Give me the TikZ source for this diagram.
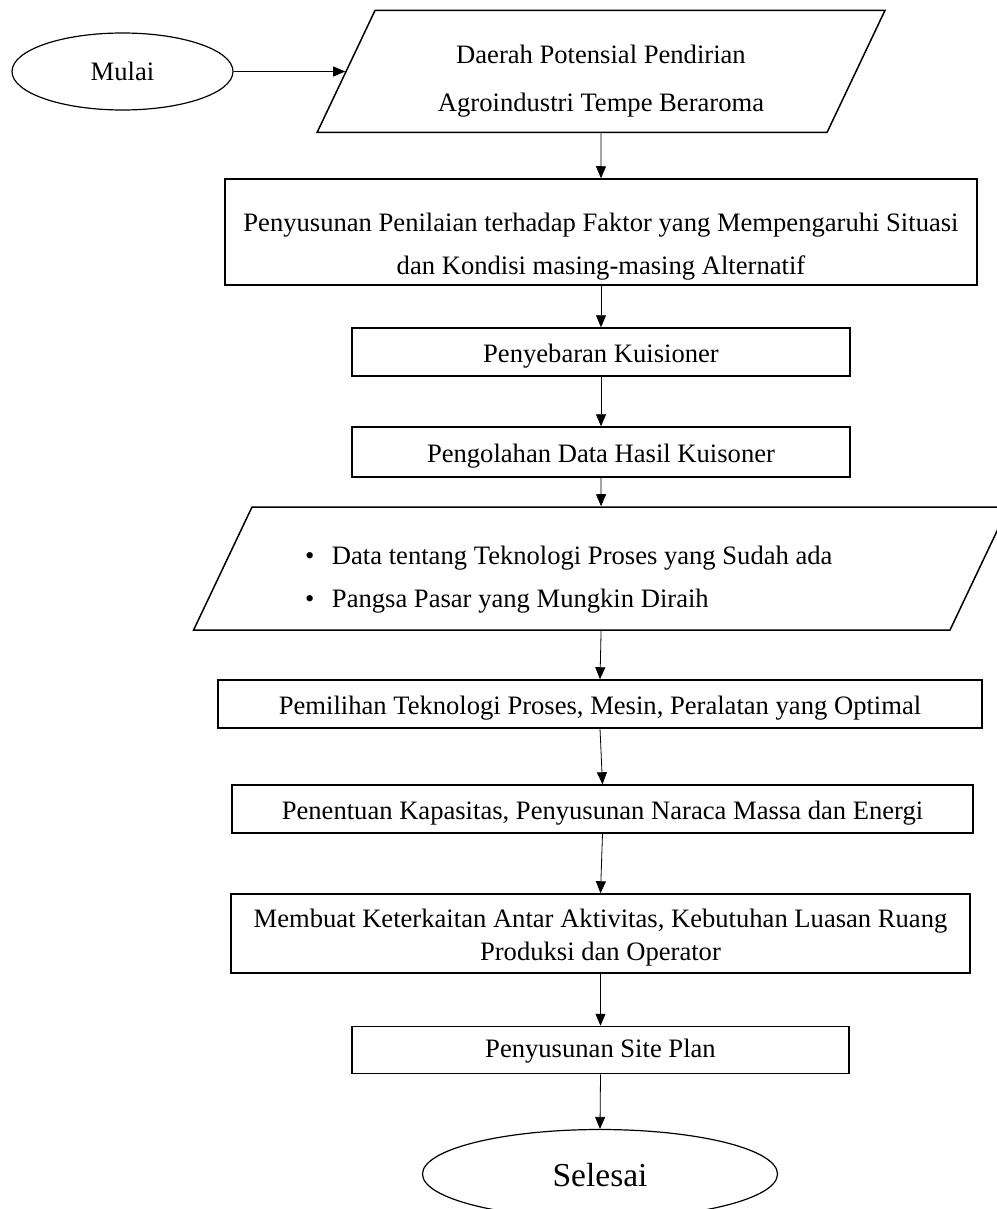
\documentclass[tikz,border=0pt]{standalone}
\usepackage{fontspec}
\setmainfont{Liberation Serif}
\usetikzlibrary{shapes.geometric,arrows.meta}

\newcommand{\teksbiasa}{\fontsize{26.6}{43}\selectfont}

\begin{document}
\begin{tikzpicture}[x=1pt,y=-1pt,
                    kotak/.style={draw,line width=1.5pt,inner sep=0pt,align=flush center,
                                  font=\teksbiasa},
                    jajar/.style={draw,line width=1.5pt,trapezium,
                                  trapezium left angle=64.6,trapezium right angle=115.4,
                                  font=\teksbiasa},
                    oval/.style={draw,ellipse,line width=1.2pt,inner sep=0pt},
                    panah/.style={-{Triangle[width=10pt,length=12pt]},line width=0.8pt}]
\useasboundingbox (0,0) rectangle (996,1209);

% mulai dan input awal
\node[oval,minimum width=221pt,minimum height=77pt,font=\teksbiasa,
      text height=25pt,text depth=6pt] (mulai) at (122.5,71.5) {Mulai};
\node[jajar,text width=440pt,align=flush center,inner xsep=6pt,inner ysep=33.5pt,
      text height=20pt,text depth=35pt]
  (daerah) at (601,71.5) {Daerah Potensial Pendirian\\[5pt]Agroindustri Tempe Beraroma};

% tahapan
\node[kotak,minimum width=752pt,minimum height=106pt,text width=740pt,
      text height=20pt,text depth=22pt] (penilaian) at (601,232)
  {Penyusunan Penilaian terhadap Faktor yang Mempengaruhi Situasi\\dan Kondisi masing-masing Alternatif};
\node[kotak,minimum width=498pt,minimum height=48pt,text height=26pt,text depth=6pt]
  (sebar) at (601,352) {Penyebaran Kuisioner};
\node[kotak,minimum width=498pt,minimum height=50pt,text height=26pt,text depth=6pt]
  (olah) at (601,452) {Pengolahan Data Hasil Kuisoner};

\node[jajar,text width=592pt,align=flush left,inner xsep=53pt,inner ysep=37pt,
      text height=20pt,text depth=29pt]
  (datatek) at (601,568.5)
  {\makebox[27pt][l]{\textbullet}Data tentang Teknologi Proses yang Sudah ada\\
   \makebox[27pt][l]{\textbullet}Pangsa Pasar yang Mungkin Diraih};

\node[kotak,minimum width=764pt,minimum height=48pt,text height=26pt,text depth=6pt]
  (pilih) at (600,704) {Pemilihan Teknologi Proses, Mesin, Peralatan yang Optimal};
\node[kotak,minimum width=741pt,minimum height=48pt,text height=26pt,text depth=6pt]
  (kapasitas) at (602.5,809) {Penentuan Kapasitas, Penyusunan Naraca Massa dan Energi};
\node[kotak,minimum width=739pt,minimum height=79pt,text width=730pt,
      font=\fontsize{26.6}{33}\selectfont,text height=20pt,text depth=32pt]
  (keterkaitan) at (600.5,933.5)
  {Membuat Keterkaitan Antar Aktivitas, Kebutuhan Luasan Ruang\\Produksi dan Operator};
\node[kotak,minimum width=497pt,minimum height=47pt,text height=20pt,text depth=6pt]
  (siteplan) at (600.5,1050) {Penyusunan Site Plan};

% selesai
\node[oval,minimum width=355pt,minimum height=89pt,font=\fontsize{33.5}{40}\selectfont,
      text height=31pt,text depth=6pt] (selesai) at (600,1174) {Selesai};

% panah
\draw[panah] (mulai) -- (daerah);
\draw[panah] (daerah.south) -- (penilaian.north);
\draw[panah] (penilaian.south) -- (sebar.north);
\draw[panah] (sebar.south) -- (olah.north);
\draw[panah] (olah.south) -- (datatek.north);
\draw[panah] (datatek.south) -- (pilih.north);
\draw[panah] (pilih.south) -- (kapasitas.north);
\draw[panah] (kapasitas.south) -- (keterkaitan.north);
\draw[panah] (keterkaitan.south) -- (siteplan.north);
\draw[panah] (siteplan.south) -- (selesai.north);
\end{tikzpicture}
\end{document}
